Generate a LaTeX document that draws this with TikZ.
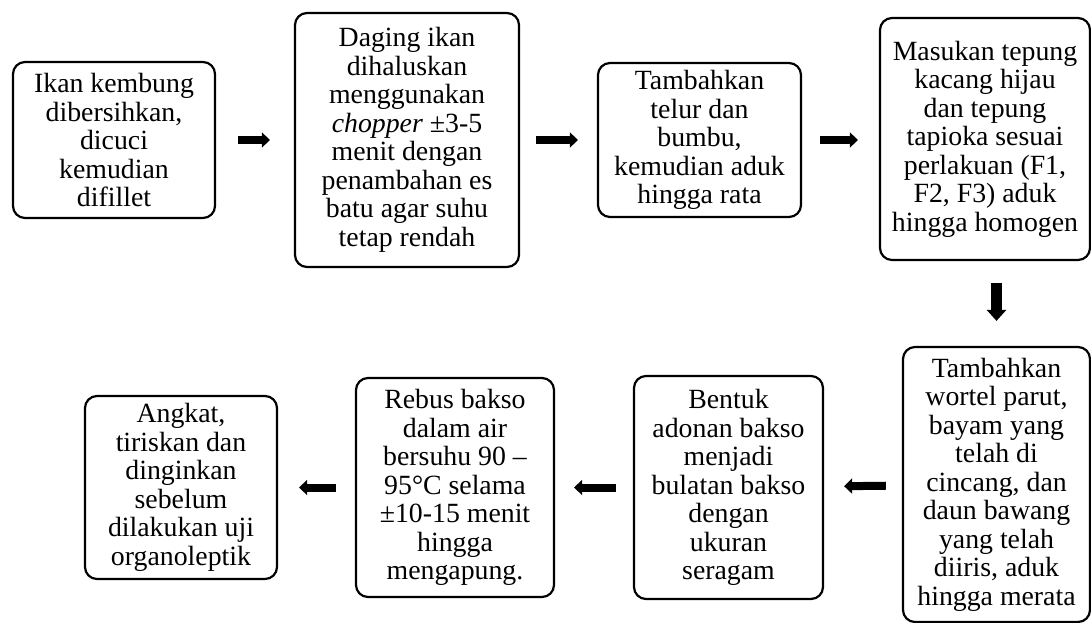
\documentclass[tikz,border=0pt]{standalone}
\usepackage{fontspec}
\setmainfont{Liberation Serif}
\usetikzlibrary{arrows.meta}

\tikzset{
  stepbox/.style={draw, line width=2.2pt, rounded corners=12pt, align=center,
    inner sep=0pt, font=\fontsize{27.8}{28.5}\selectfont},
  flow/.style={line width=8pt, -{Triangle[length=8pt,width=15pt]}},
  flowdown/.style={line width=11pt, -{Triangle[length=11pt,width=19pt]}}
}

\begin{document}
\begin{tikzpicture}[x=1pt, y=-1pt]
\useasboundingbox (0,0) rectangle (1091,623);
% Top row of steps
\node[stepbox, minimum width=202pt, minimum height=156pt] (clean) at (114,140)
	{Ikan kembung\\dibersihkan,\\dicuci\\kemudian\\difillet};
\node[stepbox, minimum width=224pt, minimum height=254pt] (mince) at (407,140)
	{Daging ikan\\dihaluskan\\menggunakan\\\textit{chopper} ±3-5\\menit dengan\\penambahan es\\batu agar suhu\\tetap rendah};
\node[stepbox, minimum width=203pt, minimum height=154pt] (egg) at (699.5,140)
	{Tambahkan\\telur dan\\bumbu,\\kemudian aduk\\hingga rata};
\node[stepbox, minimum width=210pt, minimum height=242pt] (flour) at (985,139)
	{Masukan tepung\\kacang hijau\\dan tepung\\tapioka sesuai\\perlakuan (F1,\\F2, F3) aduk\\hingga homogen};
% Bottom row of steps
\node[stepbox, minimum width=187pt, minimum height=275pt] (veg) at (996.5,484.5)
	{Tambahkan\\wortel parut,\\bayam yang\\telah di\\cincang, dan\\daun bawang\\yang telah\\diiris, aduk\\hingga merata};
\node[stepbox, minimum width=189pt, minimum height=223pt] (shape) at (728.5,487.5)
	{Bentuk\\adonan bakso\\menjadi\\bulatan bakso\\dengan\\ukuran\\seragam};
\node[stepbox, minimum width=198pt, minimum height=219pt] (boil) at (455,487.5)
	{Rebus bakso\\dalam air\\bersuhu 90 –\\95°C selama\\±10-15 menit\\hingga\\mengapung.};
\node[stepbox, minimum width=192pt, minimum height=183pt] (drain) at (181,487.5)
	{Angkat,\\tiriskan dan\\dinginkan\\sebelum\\dilakukan uji\\organoleptik};
% Arrows of the top row
\draw[flow, shorten <=22pt, shorten >=24pt] (clean) -- (mince);
\draw[flow, shorten <=16pt, shorten >=19pt] (mince) -- (egg);
\draw[flow, shorten <=18pt, shorten >=21pt] (egg) -- (egg -| flour.west);
% Arrow down to the bottom row
\draw[flowdown, shorten <=22pt, shorten >=25pt] (flour.south -| veg) -- (veg);
% Arrows of the bottom row
\draw[flow, shorten <=16pt, shorten >=20pt] (veg) -- (shape);
\draw[flow, shorten <=17pt, shorten >=19pt] (shape) -- (boil);
\draw[flow, shorten <=19pt, shorten >=21pt] (boil) -- (drain);

\end{tikzpicture}
\end{document}
